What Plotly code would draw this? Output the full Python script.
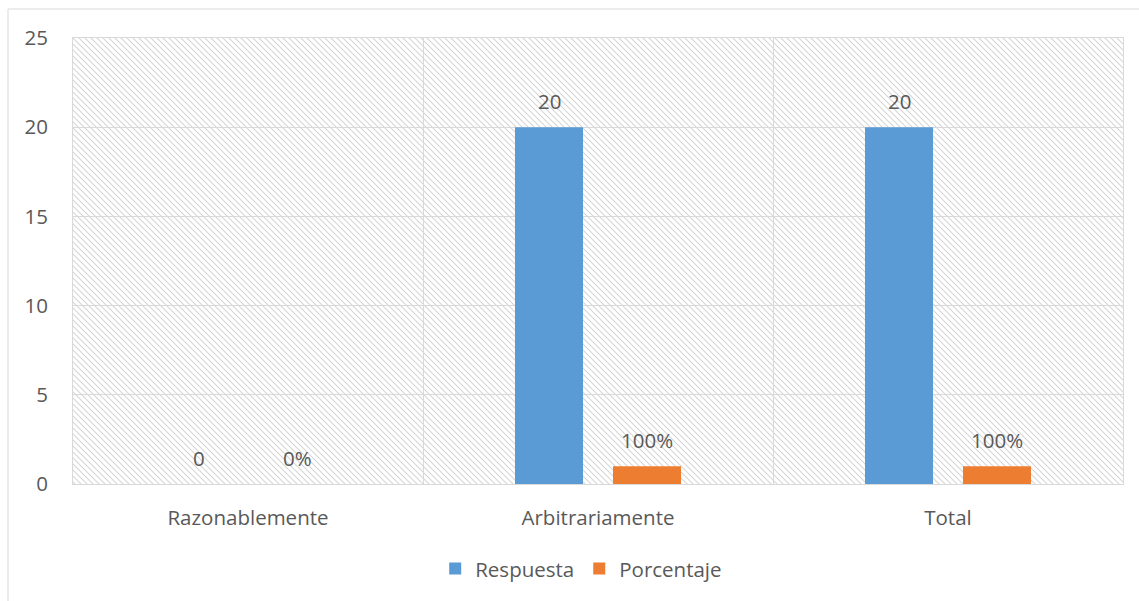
import base64
import plotly.graph_objects as go

categories = ["Razonablemente", "Arbitrariamente", "Total"]
respuesta = [0, 20, 20]
porcentaje = [0, 1, 1]
respuesta_labels = [str(v) for v in respuesta]
porcentaje_labels = [f"{round(v * 100)}%" for v in porcentaje]
y_ticks = [0, 5, 10, 15, 20, 25]

BLUE = "#5B9BD5"
ORANGE = "#ED7D31"
GRID = "#d9d9d9"
TEXT = "#595959"
FONT = "Open Sans"
FS = 20.5

W, H = 1139, 601
ML, MR, MT, MB = 73, 16, 38, 117
PW, PH = W - ML - MR, H - MT - MB

svg = f'''<svg xmlns="http://www.w3.org/2000/svg" width="{PW}" height="{PH}" viewBox="0 0 {PW} {PH}">
<defs><pattern id="p" patternUnits="userSpaceOnUse" width="6" height="6">
<path d="M0,0 L6,6 M-1,5 L1,7 M5,-1 L7,1" stroke="#d6d6d6" stroke-width="1.1"/>
</pattern></defs>
<rect width="{PW}" height="{PH}" fill="white"/>
<rect width="{PW}" height="{PH}" fill="url(#p)"/>
</svg>'''
hatch = "data:image/svg+xml;base64," + base64.b64encode(svg.encode()).decode()

fig = go.Figure()
fig.add_trace(go.Bar(name="Respuesta", x=categories, y=respuesta,
                     marker=dict(color=BLUE, line=dict(width=0))))
fig.add_trace(go.Bar(name="Porcentaje", x=categories, y=porcentaje,
                     marker=dict(color=ORANGE, line=dict(width=0))))

annotations = []
for c, v, t in zip(categories, respuesta, respuesta_labels):
    annotations.append(dict(x=c, y=v, xref="x", yref="y", text=t, showarrow=False,
                            xshift=-49, yshift=26, yanchor="middle",
                            font=dict(family=FONT, size=FS, color=TEXT)))
for c, v, t in zip(categories, porcentaje, porcentaje_labels):
    annotations.append(dict(x=c, y=v, xref="x", yref="y", text=t, showarrow=False,
                            xshift=49, yshift=26, yanchor="middle",
                            font=dict(family=FONT, size=FS, color=TEXT)))

fig.update_layout(
    width=W, height=H,
    margin=dict(l=ML, r=MR, t=MT, b=MB, pad=0),
    paper_bgcolor="white",
    plot_bgcolor="rgba(0,0,0,0)",
    font=dict(family=FONT, size=FS, color=TEXT),
    barmode="group",
    bargap=0.44,
    bargroupgap=0.306,
    showlegend=True,
    legend=dict(orientation="h", x=0.484, xanchor="center", y=-0.19, yanchor="middle",
                font=dict(family=FONT, size=FS, color=TEXT), itemclick=False),
    annotations=annotations,
    images=[dict(source=hatch, xref="paper", yref="paper", x=0, y=1, sizex=1, sizey=1,
                 xanchor="left", yanchor="top", sizing="stretch", layer="below")],
    shapes=[dict(type="rect", xref="paper", yref="paper",
                 x0=(8 - ML) / PW, x1=1.3, y0=-0.6, y1=(PH + MT - 9) / PH,
                 line=dict(color=GRID, width=1), fillcolor="rgba(0,0,0,0)", layer="below")],
)
fig.update_xaxes(
    tickson="boundaries", showgrid=True, gridcolor=GRID, gridwidth=1,
    showline=True, linecolor=GRID, linewidth=1, mirror=True,
    ticks="", ticklabelstandoff=15,
)
fig.update_yaxes(
    range=[0, 25], tickvals=y_ticks, showgrid=True, gridcolor=GRID, gridwidth=1,
    showline=True, linecolor=GRID, linewidth=1, mirror=True, zeroline=False,
    ticks="", ticklabelstandoff=20,
)

fig.write_html("out.html", config={"displayModeBar": False},
               post_script="document.body.style.margin='0';")
